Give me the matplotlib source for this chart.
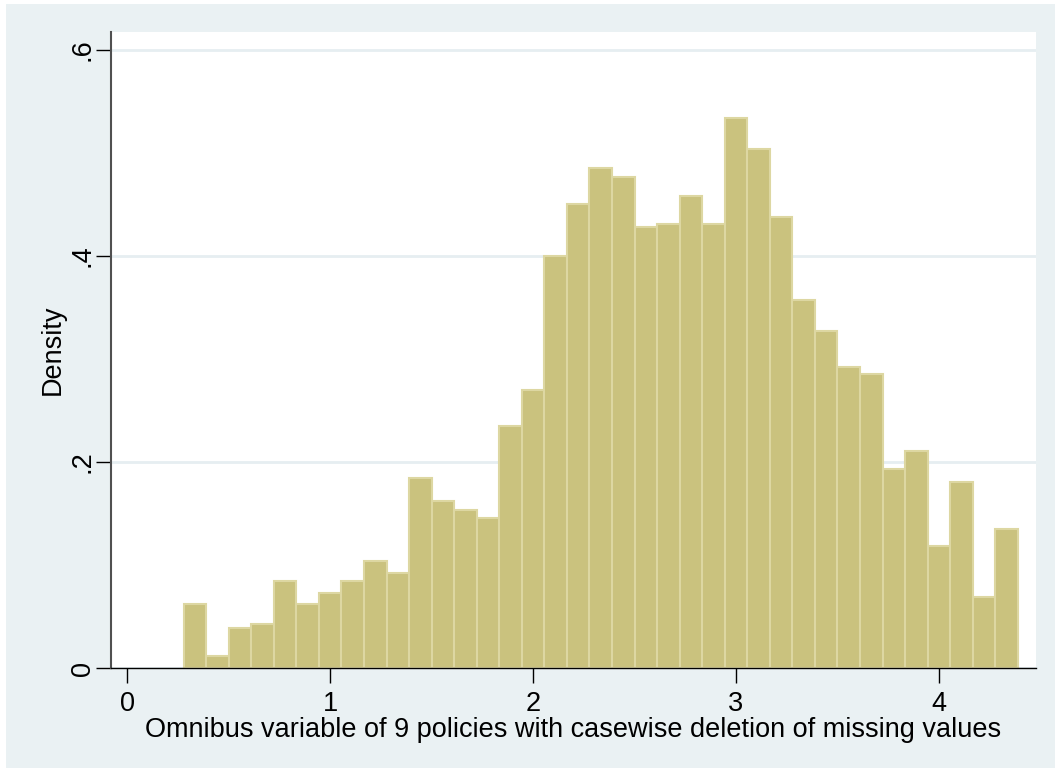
import numpy as np
import matplotlib
matplotlib.use("Agg")
from matplotlib import pyplot as plt
from matplotlib.patches import Rectangle

# histogram of the omnibus variable (density per bin, bins of width 1/9)
bin_start = 0.2778
bin_width = 1 / 9
density = [
    0.062, 0.012, 0.039, 0.043, 0.085, 0.062, 0.073, 0.085, 0.104, 0.092,
    0.185, 0.162, 0.154, 0.146, 0.235, 0.270, 0.400, 0.450, 0.485, 0.477,
    0.428, 0.431, 0.458, 0.431, 0.534, 0.504, 0.438, 0.357, 0.327, 0.292,
    0.285, 0.193, 0.211, 0.119, 0.181, 0.069, 0.135,
]
xticks = [0, 1, 2, 3, 4]
yticks = [0, 0.2, 0.4, 0.6]
ytick_labels = ["0", ".2", ".4", ".6"]
xlabel = "Omnibus variable of 9 policies with casewise deletion of missing values"
ylabel = "Density"

bg = "#EAF1F3"
fill = "#CAC27E"
edge = "#DDD7A2"
fs = 19.5

plt.rcParams["font.family"] = ["Liberation Sans", "DejaVu Sans"]
plt.rcParams["font.size"] = fs

fig = plt.figure(figsize=(10.55, 7.68), dpi=100, facecolor="white")
# graph region (thin white strip left and top, as in the source image)
fig.patches.append(Rectangle((6 / 1055, 0), 1 - 6 / 1055, 1 - 4 / 768,
                             transform=fig.transFigure, facecolor=bg,
                             edgecolor="none", zorder=-10))

ax = fig.add_axes([111 / 1055, 1 - 668.3 / 768,
                   (1035.5 - 111) / 1055, (668.3 - 32) / 768])
ax.set_facecolor("white")

left_edges = bin_start + bin_width * np.arange(len(density))
ax.bar(left_edges, density, width=bin_width, align="edge",
       color=fill, edgecolor=edge, linewidth=1.5, zorder=2)

ax.set_xlim(-0.0803, 4.476)
ax.set_ylim(0, 0.6172)

ax.set_xticks(xticks)
ax.set_yticks(yticks)
ax.set_yticklabels(ytick_labels, rotation=90, va="center")
ax.tick_params(axis="both", length=11, width=1, color="black", labelsize=fs)
ax.tick_params(axis="x", pad=5)
ax.tick_params(axis="y", pad=0)

ax.yaxis.grid(True, color="#E6EEF1", linewidth=2)
ax.set_axisbelow(True)

for side in ["top", "right"]:
    ax.spines[side].set_visible(False)
ax.spines["left"].set_color("#505050")
ax.spines["left"].set_linewidth(1.5)
ax.spines["bottom"].set_color("black")
ax.spines["bottom"].set_linewidth(1)
ax.spines["bottom"].set_zorder(3)

ax.set_xlabel(xlabel, fontsize=fs, labelpad=0)
ax.set_ylabel(ylabel, fontsize=fs, labelpad=3)

fig.savefig("out.png", dpi=100, facecolor=fig.get_facecolor())
